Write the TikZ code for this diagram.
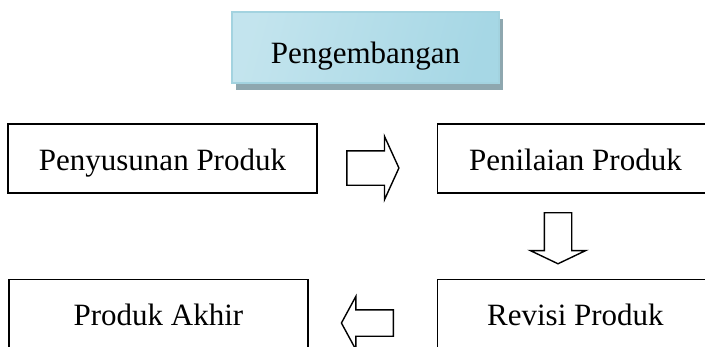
\documentclass[tikz,border=0pt]{standalone}
\usepackage{fontspec}
\setmainfont{Liberation Serif}
\usetikzlibrary{positioning,shapes.arrows,shadows}

\definecolor{phaseedge}{HTML}{A3D3E0}
\definecolor{phaselight}{HTML}{E6F4F8}
\definecolor{phaseblue}{HTML}{A6D7E5}
\definecolor{phaseshadow}{HTML}{8EA7AF}

\begin{document}
\begin{tikzpicture}[
  x=1pt, y=1pt,
  font=\fontsize{31}{36}\selectfont,
  stage/.style ={rectangle, draw=black, line width=1.4pt, minimum height=69pt,
                 inner sep=0pt, text height=23pt, text depth=0pt},
  phase/.style ={rectangle, draw=phaseedge, line width=1.2pt, minimum width=267pt,
                 minimum height=71pt, inner sep=0pt, text height=31pt, text depth=0pt,
                 left color=phaseblue!55!phaselight, middle color=phaselight,
                 right color=phaseblue, shading angle=75,
                 drop shadow={shadow xshift=4pt, shadow yshift=-7pt,
                              fill=phaseshadow, opacity=1}},
  flow/.style  ={single arrow, draw=black, line width=1.4pt, fill=white,
                 inner xsep=0pt},
  node distance=85pt and 119pt
]
\useasboundingbox (0,0) rectangle (705,-346);

% ---- Phase header --------------------------------------------------------
\node[phase] (dev) at (365.5,-47.5) {Pengembangan};

% ---- Stages ----------------------------------------------------------------
\node[stage, minimum width=309pt] (draft) at (162.5,-158.5) {Penyusunan Produk};
\node[stage, minimum width=276pt, right=of draft] (review) {Penilaian Produk};
\node[stage, minimum width=276pt, below=of review] (revise) {Revisi Produk};
\node[stage, minimum width=299pt, left=128pt of revise] (final) {Produk Akhir};

% ---- Block arrows between stages -------------------------------------------
\node[flow, minimum height=52pt, inner ysep=16.5pt, single arrow head extend=14.5pt,
      single arrow tip angle=131] (f1) at (369,-168) {};
\node[flow, minimum height=51pt, inner ysep=13pt, single arrow head extend=14pt,
      single arrow tip angle=129, rotate=-90] (f2) at (558,-235) {};
\node[flow, minimum height=52pt, inner ysep=12.5pt, single arrow head extend=13.5pt,
      single arrow tip angle=123, rotate=180] (f3) at (371,-323) {};

\end{tikzpicture}
\end{document}
